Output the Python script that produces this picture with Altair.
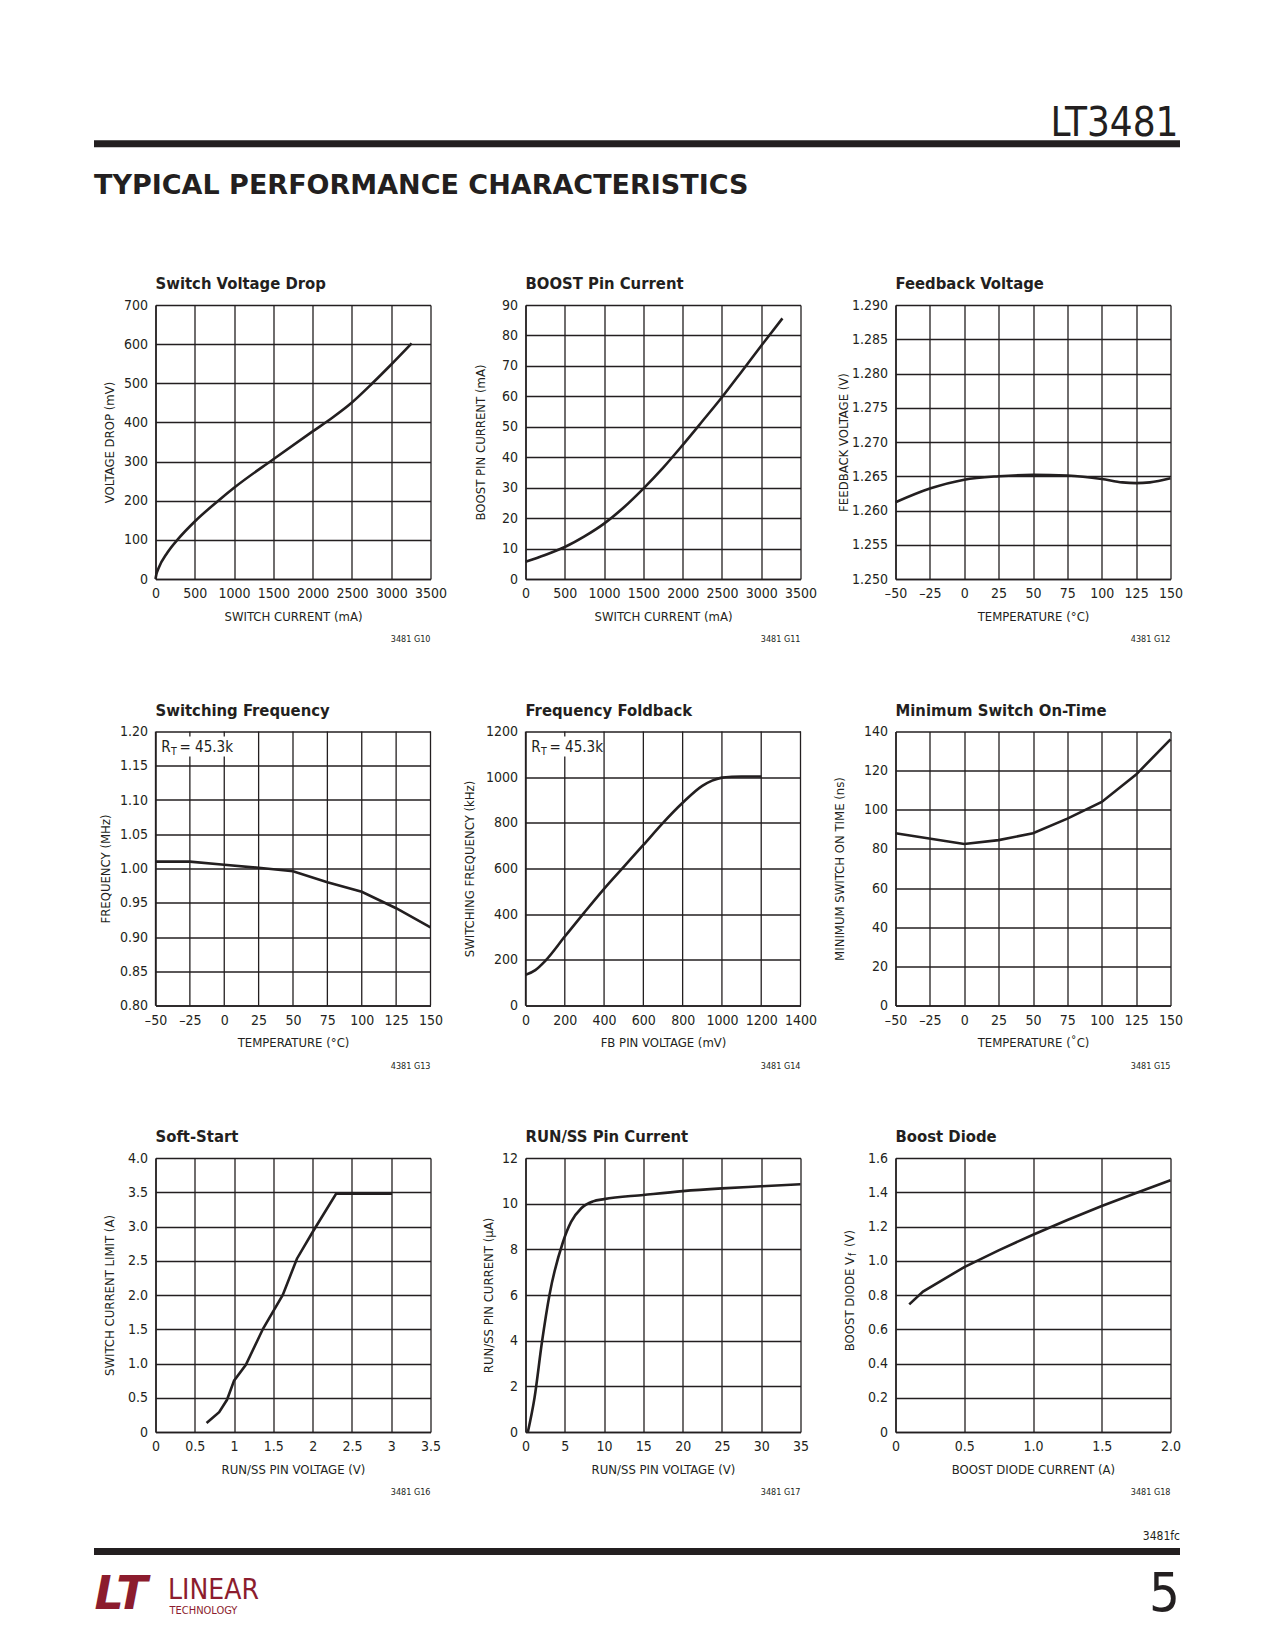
import altair as alt
import pandas as pd

# ---------------- data ----------------
# Switch Voltage Drop
sw_current = [0, 10, 40, 150, 300, 500, 800, 1000, 1500, 2000, 2250, 2500, 2760, 3000, 3260]
sw_drop = [0, 11, 28, 67, 105, 147, 200, 233, 306, 377, 412, 451, 500, 548, 602]
# BOOST Pin Current
bp_current = [0, 250, 500, 750, 1000, 1250, 1500, 1750, 2000, 2250, 2500, 2750, 3000, 3270]
bp_pin = [5.7, 7.9, 10.5, 14.0, 18.2, 23.5, 29.7, 36.5, 44.0, 51.8, 59.7, 68.1, 76.6, 85.6]
# Feedback Voltage
fb_temp = [-50, -25, 0, 25, 50, 75, 100, 115, 125, 135, 150]
fb_volt = [1.2612, 1.2632, 1.2645, 1.2650, 1.2652, 1.2651, 1.2646, 1.2641, 1.2640, 1.2641, 1.2647]
# Switching Frequency
sf_temp = [-50, -25, 0, 25, 50, 75, 100, 125, 150]
sf_freq = [1.010, 1.010, 1.0055, 1.001, 0.996, 0.980, 0.966, 0.942, 0.914]
# Frequency Foldback
ff_volt = [0, 50, 100, 200, 300, 400, 500, 600, 700, 800, 900, 950, 1000, 1050, 1100, 1200]
ff_freq = [134, 155, 195, 302, 408, 511, 607, 703, 800, 888, 962, 985, 998, 1002, 1003, 1003]
# Minimum Switch On-Time
mt_temp = [-50, 0, 25, 50, 75, 100, 125, 150]
mt_ns = [88, 82.5, 84.5, 88, 95.5, 104, 118, 136]
# Soft-Start
ss_volt = [0.65, 0.81, 0.91, 1.0, 1.15, 1.37, 1.62, 1.80, 2.0, 2.30, 3.01]
ss_amp = [0.13, 0.29, 0.47, 0.75, 0.98, 1.51, 2.0, 2.53, 2.92, 3.48, 3.48]
# RUN/SS Pin Current
rs_volt = [0.3, 1.15, 2.1, 3.05, 4.75, 5.8, 7.1, 8.6, 10.0, 15, 20, 25, 30, 35]
rs_curr = [0, 1.5, 3.95, 6.0, 8.3, 9.2, 9.8, 10.1, 10.2, 10.38, 10.55, 10.67, 10.76, 10.85]
# Boost Diode
bd_amp = [0.1, 0.2, 0.5, 0.75, 1.0, 1.25, 1.5, 1.75, 2.0]
bd_vf = [0.745, 0.82, 0.963, 1.061, 1.152, 1.238, 1.32, 1.396, 1.47]

# tick values
t_sw_x = [0, 500, 1000, 1500, 2000, 2500, 3000, 3500]
t_sw_y = [0, 100, 200, 300, 400, 500, 600, 700]
t_bp_y = [0, 10, 20, 30, 40, 50, 60, 70, 80, 90]
t_temp = [-50, -25, 0, 25, 50, 75, 100, 125, 150]
t_fb_y = [1.25, 1.255, 1.26, 1.265, 1.27, 1.275, 1.28, 1.285, 1.29]
t_sf_y = [0.8, 0.85, 0.9, 0.95, 1.0, 1.05, 1.1, 1.15, 1.2]
t_ff_x = [0, 200, 400, 600, 800, 1000, 1200, 1400]
t_ff_y = [0, 200, 400, 600, 800, 1000, 1200]
t_mt_y = [0, 20, 40, 60, 80, 100, 120, 140]
t_ss_x = [0, 0.5, 1, 1.5, 2, 2.5, 3, 3.5]
t_ss_y = [0, 0.5, 1, 1.5, 2, 2.5, 3, 3.5, 4]
t_rs_x = [0, 5, 10, 15, 20, 25, 30, 35]
t_rs_y = [0, 2, 4, 6, 8, 10, 12]
t_bd_x = [0, 0.5, 1, 1.5, 2]
t_bd_y = [0, 0.2, 0.4, 0.6, 0.8, 1.0, 1.2, 1.4, 1.6]

TXT = "#231f20"
MAROON = "#8c1c2e"
FONT = "Liberation Sans Narrow, DejaVu Sans Condensed, Arial Narrow, sans-serif"
WIDE = "DejaVu Sans, Liberation Sans, sans-serif"
W, H = 275, 274

F_INT = "format(datum.value, 'd')"
F_NEG = "datum.value < 0 ? '\u2013' + format(-datum.value, 'd') : format(datum.value, 'd')"
F_1F0 = "datum.value == 0 ? '0' : format(datum.value, '.1f')"
F_G = "format(datum.value, '~g')"
F_3F = "format(datum.value, '.3f')"
F_2F = "format(datum.value, '.2f')"

one = pd.DataFrame({"k": [0]})


def txt(text, x, y, size=13, align="left", baseline="alphabetic", angle=0,
        color=TXT, font=FONT, weight="normal", style="normal"):
    return alt.Chart(one).mark_text(
        text=text, align=align, baseline=baseline, angle=angle, fontSize=size,
        font=font, color=color, fontWeight=weight, fontStyle=style
    ).encode(x=alt.value(x), y=alt.value(y))


def hrule(y, x1=-61.5, x2=1024.5, width=7, color=TXT):
    return alt.Chart(one).mark_rule(color=color, strokeWidth=width).encode(
        x=alt.value(x1), x2=alt.value(x2), y=alt.value(y))


def panel(xs, ys, xdom, xvals, ydom, yvals, xexpr, yexpr, xtitle, ytitle,
          ttl, note, interp, ytx, extra=(), own_xgrid=False):
    df = pd.DataFrame({"x": xs, "y": ys})
    yaxis_kw = dict(values=yvals, labelExpr=yexpr, title=ytitle)
    if ytitle is not None:
        yaxis_kw["titleX"] = ytx
    xaxis_kw = dict(values=xvals, labelExpr=xexpr, title=xtitle)
    if own_xgrid:
        xaxis_kw["grid"] = False
    xenc = alt.X("x:Q", scale=alt.Scale(domain=xdom, nice=False, zero=False),
                 axis=alt.Axis(**xaxis_kw))
    line = alt.Chart(df).mark_line(
        color=TXT, strokeWidth=2.6, interpolate=interp
    ).encode(
        x=xenc,
        y=alt.Y("y:Q", scale=alt.Scale(domain=ydom, nice=False, zero=False),
                axis=alt.Axis(**yaxis_kw)),
    )
    layers = []
    if own_xgrid:
        # vertical grid lines drawn as marks so that a label mask can sit above them
        layers.append(alt.Chart(pd.DataFrame({"x": xvals})).mark_rule(
            color=TXT, strokeWidth=1.3).encode(x=xenc))
    layers.append(line)
    title_layer = txt(ttl, 0, -16, size=16.5, weight="bold")
    note_layer = txt(note, W, H + 60, size=9, align="right", baseline="middle")
    return alt.layer(*layers, title_layer, note_layer, *extra).properties(
        width=W, height=H)


def rt_note():
    # white band masking the grid behind the label
    mask = hrule(15, x1=5, x2=73, width=20, color="white")
    return [mask,
            txt("R", 15, 20, size=15, align="right"),
            txt("T", 15.5, 23.5, size=10.5),
            txt("= 45.3k", 24, 20, size=15)]


def vf_title():
    return [txt("BOOST DIODE V", -46, 99, size=13, align="right",
                baseline="middle", angle=270),
            txt("f", -42.5, 98, size=10, align="left", baseline="middle", angle=270),
            txt("(V)", -46, 89, size=13, align="left", baseline="middle", angle=270)]


# page header, placed relative to the first panel
header = [
    hrule(-161.3),
    txt("LT3481", 1023, -169, size=40, align="right"),
    txt("TYPICAL PERFORMANCE CHARACTERISTICS", -61.5, -111, size=27,
        font=WIDE, weight="bold"),
]
# page footer, placed relative to the first panel of the last row
footer = [
    txt("3481fc", 1024.5, 382, size=12, align="right"),
    hrule(393.5),
    txt("5", 1024.5, 453, size=54, align="right"),
    txt("LT", -61, 451, size=46, color=MAROON, font=WIDE, weight="bold", style="italic"),
    txt("LINEAR", 12.5, 441, size=28, color=MAROON),
    txt("TECHNOLOGY", 14, 456, size=11, color=MAROON),
]

p1 = panel(sw_current, sw_drop, [0, 3500], t_sw_x, [0, 700], t_sw_y, F_INT, F_INT,
           "SWITCH CURRENT (mA)", "VOLTAGE DROP (mV)", "Switch Voltage Drop",
           "3481 G10", "monotone", -46, header)
p2 = panel(bp_current, bp_pin, [0, 3500], t_sw_x, [0, 90], t_bp_y, F_INT, F_INT,
           "SWITCH CURRENT (mA)", "BOOST PIN CURRENT (mA)", "BOOST Pin Current",
           "3481 G11", "monotone", -45)
p3 = panel(fb_temp, fb_volt, [-50, 150], t_temp, [1.25, 1.29], t_fb_y, F_NEG, F_3F,
           "TEMPERATURE (\u00b0C)", "FEEDBACK VOLTAGE (V)", "Feedback Voltage",
           "4381 G12", "monotone", -52)
p4 = panel(sf_temp, sf_freq, [-50, 150], t_temp, [0.8, 1.2], t_sf_y, F_NEG, F_2F,
           "TEMPERATURE (\u00b0C)", "FREQUENCY (MHz)", "Switching Frequency",
           "4381 G13", "linear", -50, rt_note(), own_xgrid=True)
p5 = panel(ff_volt, ff_freq, [0, 1400], t_ff_x, [0, 1200], t_ff_y, F_INT, F_INT,
           "FB PIN VOLTAGE (mV)", "SWITCHING FREQUENCY (kHz)", "Frequency Foldback",
           "3481 G14", "monotone", -56, rt_note(), own_xgrid=True)
p6 = panel(mt_temp, mt_ns, [-50, 150], t_temp, [0, 140], t_mt_y, F_NEG, F_INT,
           "TEMPERATURE (\u02daC)", "MINIMUM SWITCH ON TIME (ns)", "Minimum Switch On-Time",
           "3481 G15", "linear", -56)
p7 = panel(ss_volt, ss_amp, [0, 3.5], t_ss_x, [0, 4], t_ss_y, F_G, F_1F0,
           "RUN/SS PIN VOLTAGE (V)", "SWITCH CURRENT LIMIT (A)", "Soft-Start",
           "3481 G16", "linear", -46, footer)
p8 = panel(rs_volt, rs_curr, [0, 35], t_rs_x, [0, 12], t_rs_y, F_INT, F_INT,
           "RUN/SS PIN VOLTAGE (V)", "RUN/SS PIN CURRENT (\u03bcA)", "RUN/SS Pin Current",
           "3481 G17", "monotone", -37)
p9 = panel(bd_amp, bd_vf, [0, 2], t_bd_x, [0, 1.6], t_bd_y, F_1F0, F_1F0,
           "BOOST DIODE CURRENT (A)", None, "Boost Diode",
           "3481 G18", "linear", -46, vf_title())

chart = alt.concat(
    p1, p2, p3, p4, p5, p6, p7, p8, p9,
    columns=3, spacing={"row": 152.5, "column": 95}, bounds="flush",
).properties(
    padding={"left": 82.5, "top": 96, "right": 10, "bottom": 10}
).configure_view(strokeWidth=0).configure_axis(
    labelFont=FONT, labelFontSize=14, labelColor=TXT,
    titleFont=FONT, titleFontSize=13, titleFontWeight="normal", titleColor=TXT,
    gridColor=TXT, gridWidth=1.3, gridOpacity=1,
    domainColor=TXT, domainWidth=1.5, ticks=False,
    labelFlush=False, labelOverlap=False, zindex=0,
).configure_axisX(
    labelPadding=7.5, titleY=37, titleBaseline="middle"
).configure_axisY(
    labelPadding=8, titleAngle=270, titleBaseline="middle", titleY=137
)

chart.save("out.html", embed_options={"renderer": "svg", "actions": False})
